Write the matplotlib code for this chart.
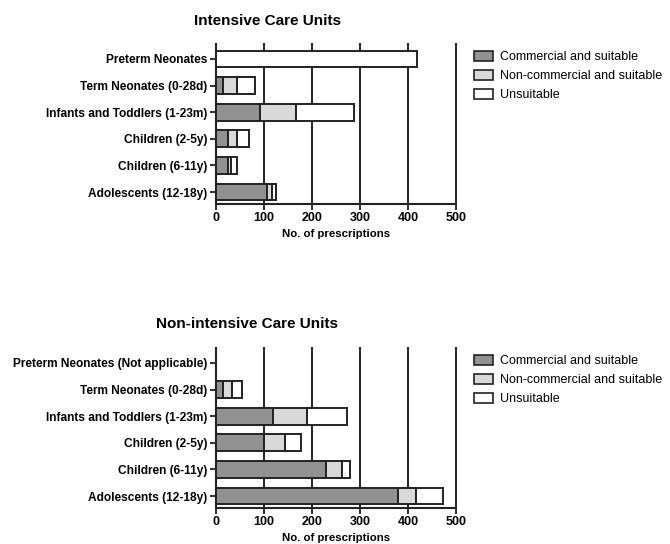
import numpy as np
import matplotlib
matplotlib.use('Agg')
import matplotlib.pyplot as plt
from matplotlib.patches import Patch

plt.rcParams['font.family'] = ['Liberation Sans', 'DejaVu Sans']

series = ['Commercial and suitable', 'Non-commercial and suitable', 'Unsuitable']
colors = ['#919191', '#d9d9d9', '#ffffff']

icu_groups = ['Preterm Neonates', 'Term Neonates (0-28d)', 'Infants and Toddlers (1-23m)',
              'Children (2-5y)', 'Children (6-11y)', 'Adolescents (12-18y)']
icu_commercial = [0, 15, 91, 26, 26, 107]
icu_noncommercial = [0, 29, 75, 17, 6, 9]
icu_unsuitable = [418, 38, 121, 26, 12, 9]

nonicu_groups = ['Preterm Neonates (Not applicable)', 'Term Neonates (0-28d)',
                 'Infants and Toddlers (1-23m)', 'Children (2-5y)', 'Children (6-11y)',
                 'Adolescents (12-18y)']
nonicu_commercial = [0, 15, 119, 101, 230, 380]
nonicu_noncommercial = [0, 19, 70, 42, 33, 36]
nonicu_unsuitable = [0, 21, 84, 35, 17, 56]

W, H = 670, 544
fig = plt.figure(figsize=(W / 100, H / 100), dpi=100)


def panel(top_px, groups, segs, title, title_x, title_y, leg_y):
    ax = fig.add_axes([216 / W, 1 - (top_px + 160) / H, 240 / W, 160 / H])
    y = np.arange(len(groups))[::-1]
    left = np.zeros(len(groups))
    for vals, c in zip(segs, colors):
        vals = np.array(vals, dtype=float)
        ax.barh(y, vals, left=left, height=0.63, color=c, edgecolor='#222222',
                linewidth=1.4, zorder=3)
        left += vals
    ax.set_xlim(0, 500)
    ax.set_ylim(-0.45, 5.56)
    ax.set_xticks([0, 100, 200, 300, 400, 500])
    ax.set_yticks(y)
    ax.set_yticklabels(groups, fontsize=8.6, fontweight='bold')
    for lbl in ax.get_xticklabels():
        lbl.set_fontsize(9)
        lbl.set_fontweight('bold')
    ax.tick_params(axis='both', direction='out', length=4, width=1.3, color='#222222',
                   pad=2)
    for s in ['top', 'right']:
        ax.spines[s].set_visible(False)
    for s in ['left', 'bottom']:
        ax.spines[s].set_linewidth(1.5)
        ax.spines[s].set_color('#222222')
    ax.grid(axis='x', color='#222222', linewidth=1.4, zorder=0)
    for gl in ax.get_xgridlines():
        gl.set_clip_on(False)
    ax.set_axisbelow(True)
    ax.set_xlabel('No. of prescriptions', fontsize=8.2, fontweight='bold', labelpad=3.5)
    fig.text(title_x / W, 1 - title_y / H, title, fontsize=11, fontweight='bold',
             ha='center', va='center')
    handles = [Patch(facecolor=c, edgecolor='#222222', linewidth=1.2) for c in colors]
    fig.legend(handles, series, loc='upper left', bbox_to_anchor=(474 / W, 1 - leg_y / H),
               frameon=False, fontsize=9, handlelength=1.5, handleheight=0.8,
               labelspacing=0.55, handletextpad=0.6, borderaxespad=0, borderpad=0)
    return ax


panel(44, icu_groups, [icu_commercial, icu_noncommercial, icu_unsuitable],
      'Intensive Care Units', 267, 21, 51)
panel(348, nonicu_groups, [nonicu_commercial, nonicu_noncommercial, nonicu_unsuitable],
      'Non-intensive Care Units', 247, 324, 355)

fig.savefig('out.png', dpi=100)
